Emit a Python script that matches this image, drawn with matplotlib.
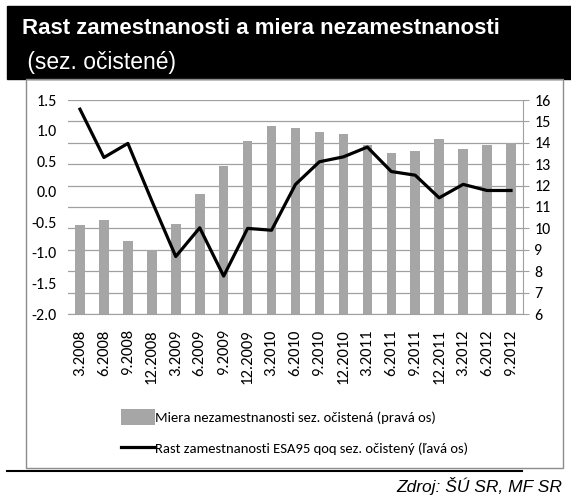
import matplotlib.pyplot as plt
import numpy as np

# data
quarters = ['3.2008', '6.2008', '9.2008', '12.2008', '3.2009', '6.2009', '9.2009', '12.2009',
            '3.2010', '6.2010', '9.2010', '12.2010', '3.2011', '6.2011', '9.2011', '12.2011',
            '3.2012', '6.2012', '9.2012']
unemployment = [10.15, 10.4, 9.4, 9.0, 10.2, 11.6, 12.9, 14.1,
                14.8, 14.7, 14.5, 14.4, 13.9, 13.5, 13.6, 14.2,
                13.7, 13.9, 14.0]
employment_growth = [1.35, 0.56, 0.79, -0.15, -1.06, -0.59, -1.38, -0.60,
                     -0.63, 0.12, 0.49, 0.57, 0.73, 0.33, 0.27, -0.10,
                     0.12, 0.02, 0.02]

bar_label = 'Miera nezamestnanosti sez. očistená (pravá os)'
line_label = 'Rast zamestnanosti ESA95 qoq sez. očistený (ľavá os)'

plt.rcParams['font.family'] = ['Carlito', 'DejaVu Sans']
arial = ['Liberation Sans', 'DejaVu Sans']

fig = plt.figure(figsize=(5.71, 4.95), dpi=100)
W, H = 571.0, 495.0

# black title bar
fig.patches.append(plt.Rectangle((7 / W, 1 - 79 / H), 1 - 7 / W, 73 / H,
                                 transform=fig.transFigure, color='black', zorder=0))
fig.text(22 / W, 1 - 29 / H, 'Rast zamestnanosti a miera nezamestnanosti', color='white',
         fontsize=16, fontweight='bold', family=arial, va='center')
fig.text(21 / W, 1 - 62 / H, ' (sez. očistené)', color='white',
         fontsize=16.5, family=arial, va='center')

# chart frame
fig.patches.append(plt.Rectangle((26 / W, 1 - 468 / H), (563 - 26) / W, (468 - 79) / H,
                                 transform=fig.transFigure, fill=False, edgecolor='#8c8c8c',
                                 linewidth=1, zorder=0))
# rule below frame
fig.lines.append(plt.Line2D([7 / W, 522 / W], [1 - 471 / H, 1 - 471 / H],
                            transform=fig.transFigure, color='black', linewidth=1.5))
fig.text(562 / W, 1 - 486 / H, 'Zdroj: ŠÚ SR, MF SR', style='italic', fontsize=12.5,
         family=arial, ha='right', va='center')

ax = fig.add_axes([68 / W, 1 - 314 / H, (523 - 68) / W, (314 - 100) / H])
ax2 = ax.twinx()
ax.set_zorder(ax2.get_zorder() + 1)
ax.patch.set_visible(False)

x = np.arange(len(quarters))
ax2.bar(x, unemployment, width=0.4, color='#a6a6a6', label=bar_label)
ax2.set_ylim(6, 16)
ax2.set_yticks(np.arange(6, 17, 1))

ax.plot(x, employment_growth, color='black', linewidth=2.3, label=line_label)
ax.set_ylim(-2.0, 1.5)
ax.set_yticks(np.arange(-2.0, 1.51, 0.5))
ax.set_yticklabels(['%.1f' % v for v in np.arange(-2.0, 1.51, 0.5)])
ax.set_xlim(-0.5, len(quarters) - 0.5)
ax.set_xticks(x)
ax.set_xticklabels(quarters, rotation=90)

ax2.yaxis.grid(True, color='#a0a0a0', linewidth=0.9)
ax2.set_axisbelow(True)
ax.yaxis.grid(False)

for a in (ax, ax2):
    for s in ('top', 'left'):
        a.spines[s].set_visible(False)
ax.spines['right'].set_visible(False)
ax2.spines['bottom'].set_visible(False)
ax.spines['bottom'].set_color('#a0a0a0')
ax2.spines['right'].set_color('#a0a0a0')

ax.tick_params(axis='y', length=0, labelsize=11.5, pad=8)
ax.tick_params(axis='x', length=0, labelsize=12, pad=11)
ax2.tick_params(axis='y', length=4, color='#a0a0a0', labelsize=11.5, pad=4)

handles = [ax2.containers[0], ax.lines[0]]
fig.legend(handles, [bar_label, line_label], loc='upper left',
           bbox_to_anchor=(108 / W, 1 - 396 / H), frameon=False, fontsize=10.5,
           handlelength=2.35, handleheight=1.3, handletextpad=0.0, labelspacing=1.05)

fig.savefig('out.png', dpi=100)
